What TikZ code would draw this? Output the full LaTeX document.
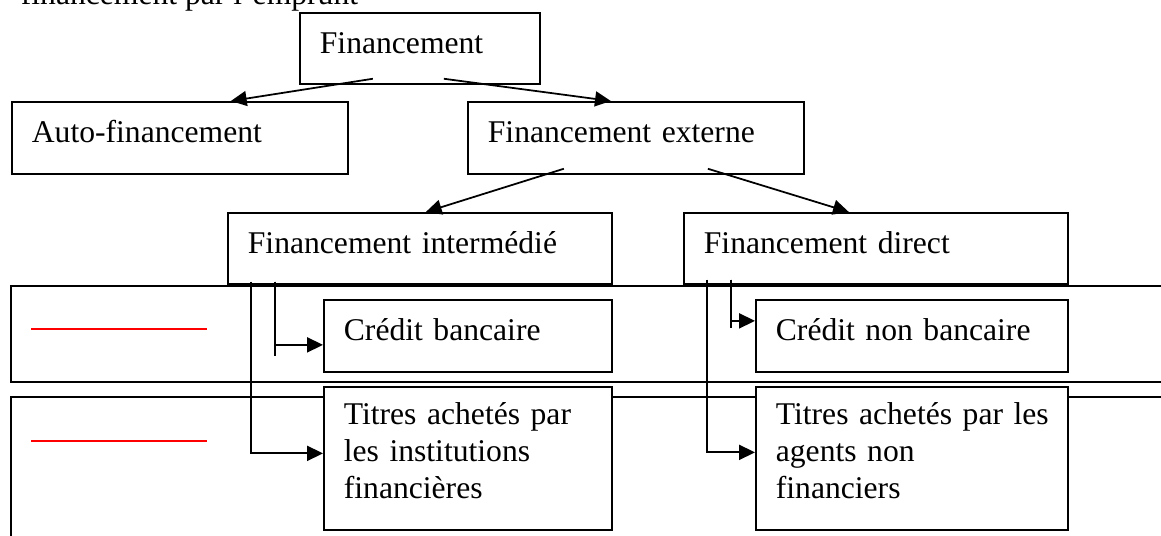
\documentclass[tikz,border=0pt]{standalone}
\usepackage{fontspec}
\setmainfont{Liberation Serif}
\usetikzlibrary{arrows.meta}

\tikzset{
  box/.style={draw, fill=white, anchor=north west, align=left,
    inner xsep=0.4cm, inner ysep=0pt, text height=0.45cm, text depth=0.25cm,
    font=\fontsize{18}{21}\selectfont},
  multibox/.style={box, text depth=1.79cm},
}

\begin{document}
\begin{tikzpicture}[>={Triangle[length=9pt,width=8.5pt]}, x=0.02cm, y=-0.02cm, line width=1pt]
\useasboundingbox (0,0) rectangle (1161,535);

%------------------ BANDS ------------------%
\draw (11,286) rectangle (1200,382);
\draw (11,397) rectangle (1200,600);

% blank lines (red)
\draw[red, line width=0.7pt] (31,329) -- (207,329);
\draw[red, line width=0.7pt] (31,441) -- (207,441);

%------------------ TREE ------------------%
\node[anchor=base west, inner sep=0pt, font=\fontsize{18}{21}\selectfont] (titre) at (20,4) {financement par l'emprunt};

\node[box, text width=4.0cm, minimum height=1.42cm] (fin) at (299,12) {Financement};

\node[box, text width=5.92cm, minimum height=1.44cm] (auto) at (11,101) {Auto-financement};
\node[box, text width=5.92cm, minimum height=1.44cm] (ext) at (467,101) {Financement externe};

\node[box, text width=6.88cm, minimum height=1.42cm] (inter) at (227,212) {Financement intermédié};
\node[box, text width=6.88cm, minimum height=1.42cm] (direct) at (683,212) {Financement direct};

\node[box, text width=4.96cm, minimum height=1.44cm] (credA) at (323,299) {Crédit bancaire};
\node[box, text width=5.44cm, minimum height=1.44cm] (credB) at (755,299) {Crédit non bancaire};

\node[multibox, text width=4.96cm, minimum height=2.86cm] (titA) at (323,386)
  {Titres achetés par\\les institutions\\financières};
\node[multibox, text width=5.44cm, minimum height=2.86cm] (titB) at (755,386)
  {Titres~achetés~par~les\\agents non\\financiers};

% slanted arrows
\draw[->] ([shift={(-47,-6)}]fin.south) -- ([shift={(51,0)}]auto.north);
\draw[->] ([shift={(24,-6)}]fin.south) -- ([shift={(-25,0)}]ext.north);
\draw[->] ([shift={(-72,-6)}]ext.south) -- ([shift={(6,0)}]inter.north);
\draw[->] ([shift={(72,-6)}]ext.south) -- ([shift={(-27,0)}]direct.north);

% elbow arrows (intermedie)
\draw[->] ([shift={(24,-3)}]inter.south west) |- ([shift={(0,-5)}]titA.west);
\draw ([shift={(48,-3)}]inter.south west) -- ++(0,74);
\draw[->] ([shift={(48,-3)}]inter.south west) |- ([shift={(0,9)}]credA.west);

% elbow arrows (direct)
\draw[->] ([shift={(24,-5)}]direct.south west) |- ([shift={(0,-6)}]titB.west);
\draw ([shift={(48,-5)}]direct.south west) -- ++(0,48);
\draw[->] ([shift={(48,-5)}]direct.south west) |- ([shift={(0,-15)}]credB.west);

\end{tikzpicture}
\end{document}
